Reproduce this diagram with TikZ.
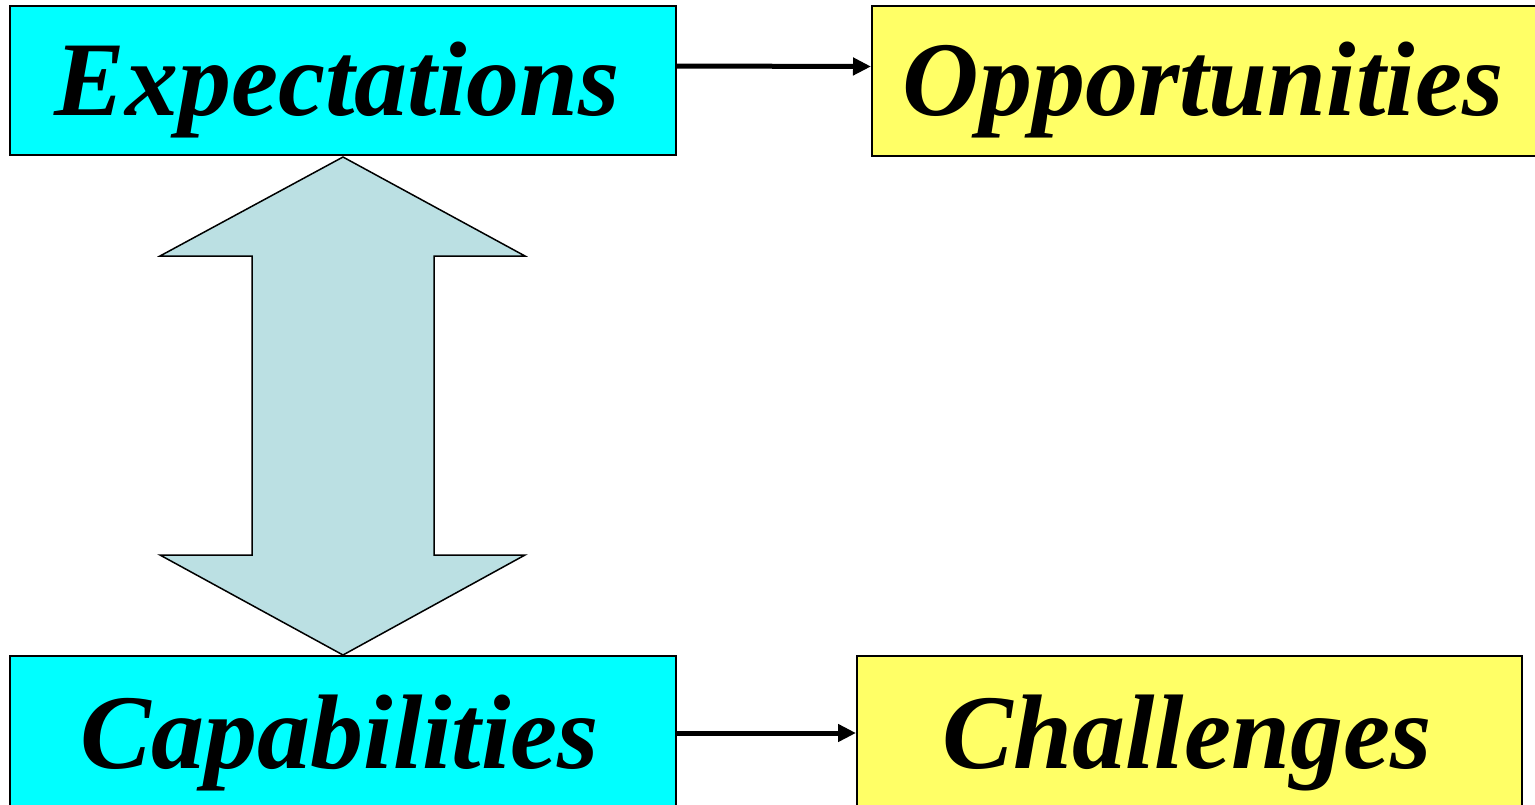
\documentclass[tikz,border=0pt]{standalone}
\usepackage{fontspec}
\setmainfont{Liberation Serif}
\usetikzlibrary{arrows.meta}
\definecolor{boxcyan}{HTML}{00FFFF}
\definecolor{boxyellow}{HTML}{FFFF66}
\definecolor{arrowblue}{HTML}{BBE0E3}
\begin{document}
\begin{tikzpicture}[x=1pt,y=-1pt,
  box/.style={draw=black, line width=2pt, rectangle, inner sep=0pt,
    text depth=20pt,
    font=\fontsize{106}{106}\selectfont\bfseries\itshape},
  toprow/.style={text height=89pt},
  bottomrow/.style={text height=92pt},
  linkarrow/.style={line width=5pt, -{Triangle[length=18pt,width=17pt]}}]
\useasboundingbox (0,0) rectangle (1535,804);
\clip (0,0) rectangle (1535,804);
\node[box, toprow, fill=boxcyan, minimum width=666pt, minimum height=149pt] (exp) at (343,80.5) {Expectations\hspace*{12pt}};
\node[box, toprow, fill=boxyellow, minimum width=676pt, minimum height=150pt] (opp) at (1210,81) {Opportunities\hspace*{14pt}};
\node[box, bottomrow, fill=boxcyan, minimum width=666pt, minimum height=152pt] (cap) at (343,732) {Capabilities\hspace*{6pt}};
\node[box, bottomrow, fill=boxyellow, minimum width=665pt, minimum height=152pt] (cha) at (1189.5,732) {Challenges\hspace*{5pt}};
\draw[linkarrow] ([yshift=14.5pt]exp.east) -- ([yshift=14.5pt]opp.west);
\draw[linkarrow] ([yshift=-1pt]cap.east) -- ([yshift=-1pt]cha.west);
\draw[fill=arrowblue, line width=1.5pt, line join=miter]
  (343,157) -- (525,256) -- (434,256) -- (434,555) -- (525,555) -- (343,655)
  -- (160,555) -- (252,555) -- (252,256) -- (160,256) -- cycle;
\end{tikzpicture}
\end{document}
